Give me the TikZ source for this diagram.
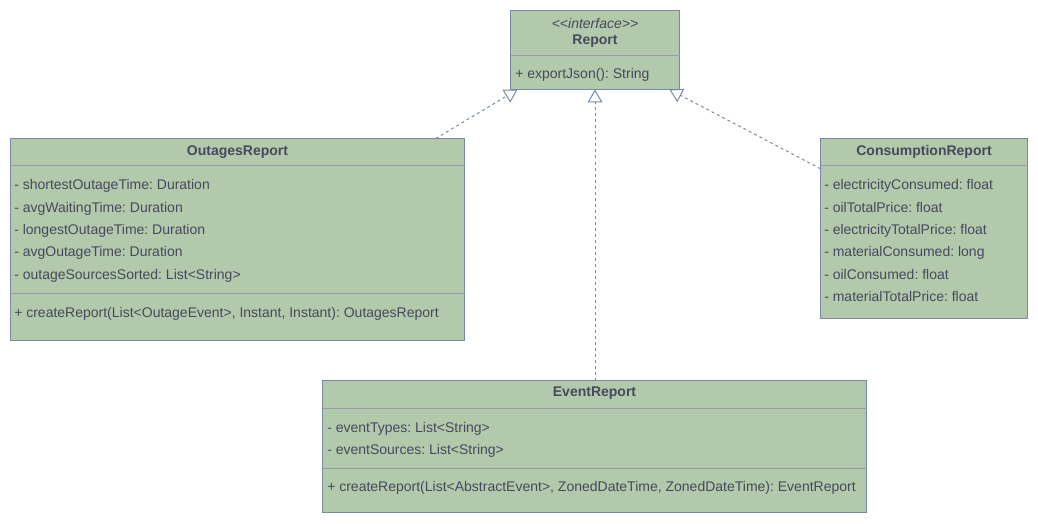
\documentclass[tikz,border=0pt]{standalone}
\usepackage{fontspec}
\setmainfont{Liberation Sans}
\usetikzlibrary{arrows.meta}

\definecolor{umlfill}{HTML}{B2C9AB}
\definecolor{umlline}{HTML}{788AA3}
\definecolor{umltext}{HTML}{46495D}
\definecolor{umldiv}{HTML}{9A9BAA}
\newcommand{\umlsize}{\fontsize{10.5}{12}\selectfont\frenchspacing}

\begin{document}
\begin{tikzpicture}[x=0.75pt, y=-0.75pt]
  \tikzstyle{classbox}=[draw=umlline, fill=umlfill, line width=0.75pt, anchor=north west, inner sep=0pt, outer sep=0pt]
  \tikzstyle{member}=[anchor=west, inner sep=0pt, text=umltext, font=\umlsize, text height=7.5pt, text depth=0pt]
  \tikzstyle{classname}=[member, anchor=center, font=\umlsize\bfseries]
  \tikzstyle{stereo}=[member, anchor=center, font=\umlsize\itshape]
  \tikzstyle{divider}=[draw=umldiv, line width=0.75pt]
  \tikzstyle{realize}=[draw=umlline, line width=0.75pt, dash pattern=on 2.25pt off 2.25pt, -{Triangle[open, length=9.75pt, width=11.25pt]}]
  \useasboundingbox (0,0) rectangle (1038,524);

  % Report
  \node[classbox, minimum width=126.75pt, minimum height=59.25pt] (Report) at (510.5,10.5) {};
  \node[stereo] (Report_st) at (595,23.3) {{<}{<}interface{>}{>}};
  \node[classname] (Report_nm) at (595,40) {Report};
  \draw[divider] (510.5,56) -- (679.5,56);
  \node[member] (Report_op) at (515,74) {+ exportJson(): String};

  % OutagesReport
  \node[classbox, minimum width=340.5pt, minimum height=151.5pt] (Outages) at (10.5,138.5) {};
  \node[classname] (Outages_nm) at (237.5,150.7) {OutagesReport};
  \draw[divider] (10.5,166) -- (464.5,166);
  \node[member] (Outages_a1) at (14,185) {- shortestOutageTime: Duration};
  \node[member] (Outages_a2) at (14,207.3) {- avgWaitingTime: Duration};
  \node[member] (Outages_a3) at (14,229.6) {- longestOutageTime: Duration};
  \node[member] (Outages_a4) at (14,251.9) {- avgOutageTime: Duration};
  \node[member] (Outages_a5) at (14,274.2) {- outageSourcesSorted: List<String>};
  \draw[divider] (10.5,293.3) -- (464.5,293.3);
  \node[member] (Outages_op) at (14,312.7) {+ createReport(List<OutageEvent>, Instant, Instant): OutagesReport};

  % ConsumptionReport
  \node[classbox, minimum width=155.25pt, minimum height=135pt] (Consumption) at (820.5,138.5) {};
  \node[classname] (Consumption_nm) at (924,150.7) {ConsumptionReport};
  \draw[divider] (820.5,166) -- (1027.5,166);
  \node[member] (Consumption_a1) at (824,185) {- electricityConsumed: float};
  \node[member] (Consumption_a2) at (824,207.3) {- oilTotalPrice: float};
  \node[member] (Consumption_a3) at (824,229.6) {- electricityTotalPrice: float};
  \node[member] (Consumption_a4) at (824,251.9) {- materialConsumed: long};
  \node[member] (Consumption_a5) at (824,274.2) {- oilConsumed: float};
  \node[member] (Consumption_a6) at (824,296.5) {- materialTotalPrice: float};

  % EventReport
  \node[classbox, minimum width=408pt, minimum height=99pt] (Event) at (322.5,380.5) {};
  \node[classname] (Event_nm) at (594.5,391.7) {EventReport};
  \draw[divider] (322.5,408.3) -- (866.5,408.3);
  \node[member] (Event_a1) at (327,427.5) {- eventTypes: List<String>};
  \node[member] (Event_a2) at (327,449) {- eventSources: List<String>};
  \draw[divider] (322.5,468.3) -- (866.5,468.3);
  \node[member] (Event_op) at (327,486.7) {+ createReport(List<AbstractEvent>, ZonedDateTime, ZonedDateTime): EventReport};

  \draw[realize] (Outages.27.7) -- (Report.207.6);
  \draw[realize] (Event.north -| Report.south) -- (Report.south);
  \draw[realize] (Consumption.150.5) -- (Report.332.1);
\end{tikzpicture}
\end{document}
